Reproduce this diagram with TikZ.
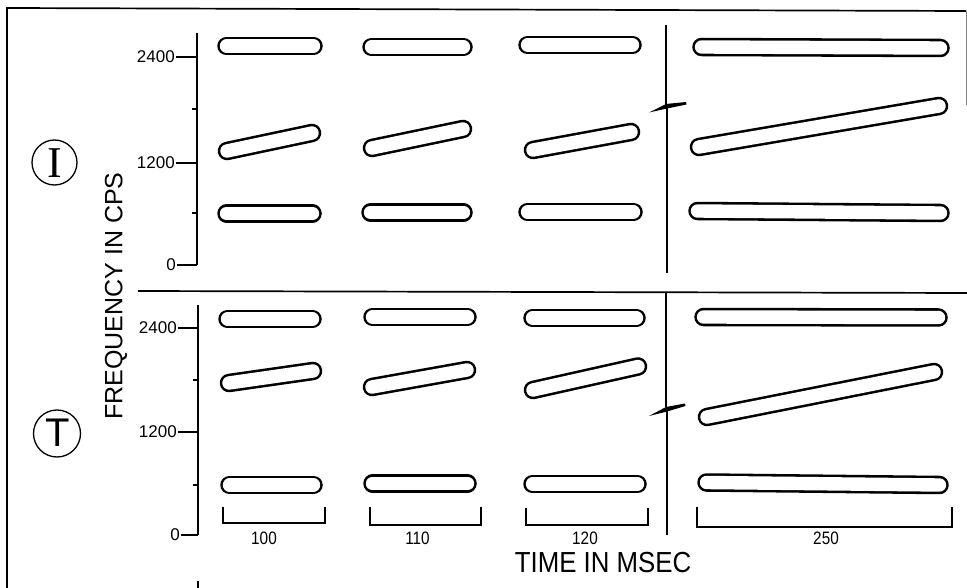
\documentclass[tikz,border=0pt]{standalone}
\usepackage{fontspec}
\setmainfont{Liberation Sans}
\newfontfamily\romanfont{Liberation Serif}

% a formant bar: a stadium outline between two cap centres
\newcommand\formant[2]{%
  \draw[line width=18.5pt, line cap=round] #1 -- #2;
  \draw[white, line width=13.4pt, line cap=round] #1 -- #2;
}

\tikzset{
  frameline/.style={line width=1.7pt},
  axisline/.style={line width=1.6pt},
  tickline/.style={line width=1.5pt},
  bracketline/.style={line width=1.5pt},
  ticklabel/.style={inner sep=0pt, anchor=east, font=\fontsize{17}{17}\selectfont},
  durlabel/.style={inner sep=0pt, font=\fontsize{18}{18}\selectfont},
}

\begin{document}
\begin{tikzpicture}[x=1pt, y=-1pt]
\useasboundingbox (0,0) rectangle (967,588);

% frame
\draw[frameline] (7,588) -- (7,8) -- (966,11);
\draw[line width=0.7pt, gray] (966,11) -- (966,105);
\draw[frameline] (138,291) -- (967,293);
\draw[line width=1.2pt] (198,581) -- (198,588);

% panel labels
\node[draw, circle, line width=1.3pt, minimum size=45pt, inner sep=0pt] (circI) at (54.5,162.5) {};
\node[inner sep=0pt, font=\romanfont\fontsize{44}{44}\selectfont] (letI) at (54.5,163) {I};
\node[draw, circle, line width=1.3pt, minimum size=47pt, inner sep=0pt] (circT) at (57,433.5) {};
\node[inner sep=0pt, font=\fontsize{40}{40}\selectfont] (letT) at (57.5,432.5) {T};

% axis titles
\node[rotate=90, inner sep=0pt, font=\fontsize{25}{25}\selectfont] (ytitle) at (116,296) {FREQUENCY IN CPS};
\node[inner sep=0pt, font=\fontsize{29}{29}\selectfont] (xtitle) at (603,562.5) {\scalebox{0.89}[1]{TIME IN MSEC}};

% upper frequency axis
\draw[axisline] (197,33) -- (197,265);
\draw[tickline] (176,57) -- (197,57);
\draw[tickline] (176,163) -- (197,163);
\draw[tickline] (177,265) -- (197,265);
\draw[tickline] (192,109) -- (197,109);
\draw[tickline] (192,213) -- (197,213);
\node[ticklabel] (ua) at (175,57) {2400};
\node[ticklabel] (ub) at (175,163) {1200};
\node[ticklabel] (uc) at (176,265) {0};

% lower frequency axis
\draw[axisline] (198,305) -- (198,535);
\draw[tickline] (178,328) -- (198,328);
\draw[tickline] (178,432) -- (198,432);
\draw[tickline] (181,535) -- (198,535);
\draw[tickline] (193,380) -- (198,380);
\draw[tickline] (193,485) -- (198,485);
\node[ticklabel] (la) at (177,328) {2400};
\node[ticklabel] (lb) at (177,432) {1200};
\node[ticklabel] (lc) at (180,535) {0};

% broken time axis between the short and long stimuli
\draw[axisline] (666,25) -- (666,105);
\fill (649,112.5) -- (666,104) -- (686,102) -- (686.5,104.5) -- (667,108.5) -- cycle;
\draw[axisline] (667,108) -- (667,273);
\draw[axisline] (666,292) -- (666,407);
\fill (649,416) -- (666,407) -- (685,403.5) -- (685.5,406) -- (667,411.5) -- cycle;
\draw[axisline] (667,411) -- (667,535);

% upper panel formants
\formant{(226.5,46)}{(313.5,46)}
\formant{(371.5,47)}{(463.5,47)}
\formant{(527.5,45)}{(632.5,45)}
\formant{(701.5,47)}{(940.5,48)}

\formant{(227,151)}{(312,133)}
\formant{(372,148)}{(463,129)}
\formant{(533,150)}{(631,132)}
\formant{(699,147)}{(939,106)}

\formant{(226.5,213.5)}{(312.5,213.5)}
\formant{(370.5,212.5)}{(463.5,212.5)}
\formant{(527.5,212)}{(633.5,212)}
\formant{(697.5,211)}{(940.5,213)}

% lower panel formants
\formant{(227.5,319)}{(312.5,319)}
\formant{(372.5,317)}{(467.5,317)}
\formant{(532.5,318)}{(636.5,318)}
\formant{(703.5,317)}{(938.5,317.5)}

\formant{(229,383)}{(313,371)}
\formant{(372,387)}{(467,370)}
\formant{(533,390)}{(638,366.5)}
\formant{(707,417)}{(934,372)}

\formant{(229.5,485)}{(313.5,485)}
\formant{(372.5,483.5)}{(467.5,483.5)}
\formant{(532.5,484)}{(637.5,484)}
\formant{(706.5,482.5)}{(939.5,485)}

% duration brackets
\draw[bracketline] (223,507) |- (325,523) -- (325,507);
\draw[bracketline] (370,507) |- (481,525) -- (481,507);
\draw[bracketline] (526,508) |- (648,525) -- (648,508);
\draw[bracketline] (697,507) |- (952,527) -- (952,507);
\node[durlabel] (d1) at (264,538) {\scalebox{0.85}[1]{100}};
\node[durlabel] (d2) at (417.5,538) {\scalebox{0.85}[1]{110}};
\node[durlabel] (d3) at (585,538) {\scalebox{0.85}[1]{120}};
\node[durlabel] (d4) at (826,538) {\scalebox{0.85}[1]{250}};

\end{tikzpicture}
\end{document}
